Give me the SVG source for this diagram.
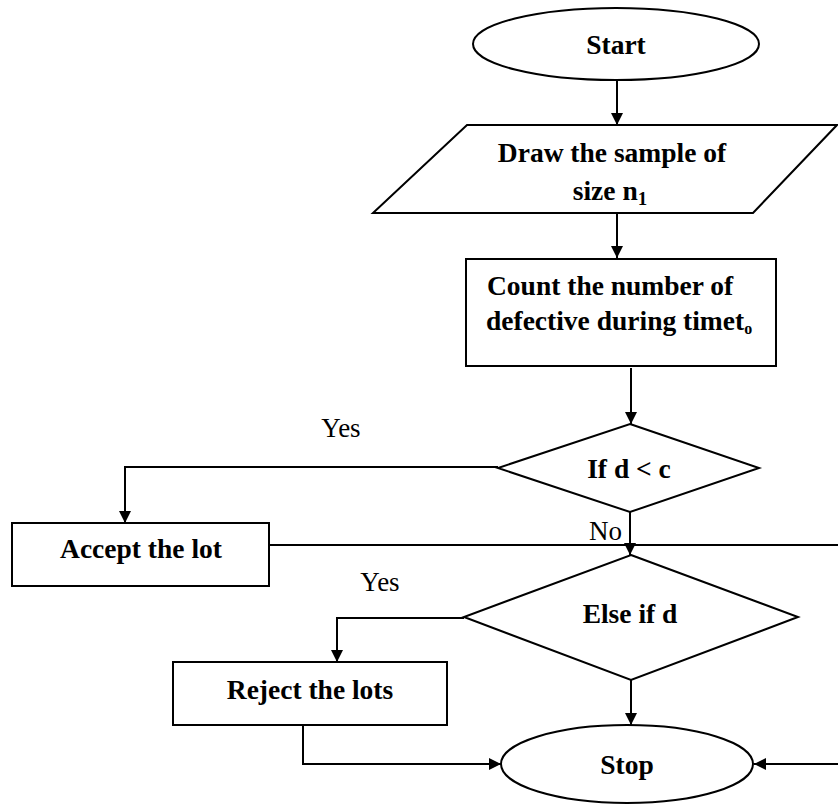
<svg xmlns="http://www.w3.org/2000/svg" width="838" height="807" viewBox="0 0 838 807">
<style>
.s{fill:#fff;stroke:#000;stroke-width:2}
.c{fill:none;stroke:#000;stroke-width:2}
.b{font-family:"Liberation Serif","Times New Roman",serif;font-weight:bold;font-size:27.5px;fill:#000}
.r{font-family:"Liberation Serif","Times New Roman",serif;font-size:27px;fill:#000}
.m{text-anchor:middle}
</style>
<defs>
<marker id="ah" viewBox="0 0 12 12" refX="12" refY="6" markerWidth="12" markerHeight="12" markerUnits="userSpaceOnUse" orient="auto">
<path d="M0,0 L12,6 L0,12 Z" fill="#000"/>
</marker>
</defs>
<rect width="838" height="807" fill="#fff"/>
<g id="connectors">
<line class="c" x1="617" y1="80" x2="617" y2="125" marker-end="url(#ah)"/>
<line class="c" x1="617" y1="213" x2="617" y2="258" marker-end="url(#ah)"/>
<line class="c" x1="631" y1="368" x2="631" y2="424" marker-end="url(#ah)"/>
<polyline class="c" points="498,467 125,467 125,523" marker-end="url(#ah)"/>
<line class="c" x1="630" y1="512" x2="630" y2="555" marker-end="url(#ah)"/>
<polyline class="c" points="269,545 842,545 842,764 754,764" marker-end="url(#ah)"/>
<polyline class="c" points="464,618 337,618 337,662" marker-end="url(#ah)"/>
<polyline class="c" points="303,725 303,764 501,764" marker-end="url(#ah)"/>
<line class="c" x1="631" y1="680" x2="631" y2="725" marker-end="url(#ah)"/>
</g>
<g id="start">
<ellipse class="s" cx="616" cy="44" rx="143" ry="36"/>
<text class="b m" x="616" y="54">Start</text>
</g>
<g id="draw">
<polygon class="s" points="467,125 837,125 753,213 373,213"/>
<text class="b m" x="612" y="162">Draw the sample of</text>
<text class="b m" x="610" y="200">size n<tspan font-size="19" dy="5">1</tspan></text>
</g>
<g id="count">
<rect class="s" x="466" y="259" width="310" height="107"/>
<text class="b" x="487" y="295">Count the number of</text>
<text class="b" x="486" y="330">defective during timet<tspan font-size="16" dy="4">o</tspan></text>
</g>
<g id="if1">
<polygon class="s" points="630,424 759,468 630,512 498,468"/>
<text class="b m" x="629" y="478">If d &lt; c</text>
</g>
<g id="accept">
<rect class="s" x="12" y="523" width="257" height="63"/>
<text class="b m" x="141" y="558">Accept the lot</text>
</g>
<g id="if2">
<polygon class="s" points="631,555 798,617 631,680 464,617"/>
<text class="b m" x="630" y="623">Else if d</text>
</g>
<g id="reject">
<rect class="s" x="173" y="662" width="274" height="63"/>
<text class="b m" x="310" y="699">Reject the lots</text>
</g>
<g id="stop">
<ellipse class="s" cx="627" cy="764" rx="126" ry="39"/>
<text class="b m" x="627" y="774">Stop</text>
</g>
<g id="labels">
<text class="r m" x="341" y="437">Yes</text>
<text class="r" x="589" y="540">No</text>
<text class="r m" x="380" y="591">Yes</text>
</g>
</svg>
